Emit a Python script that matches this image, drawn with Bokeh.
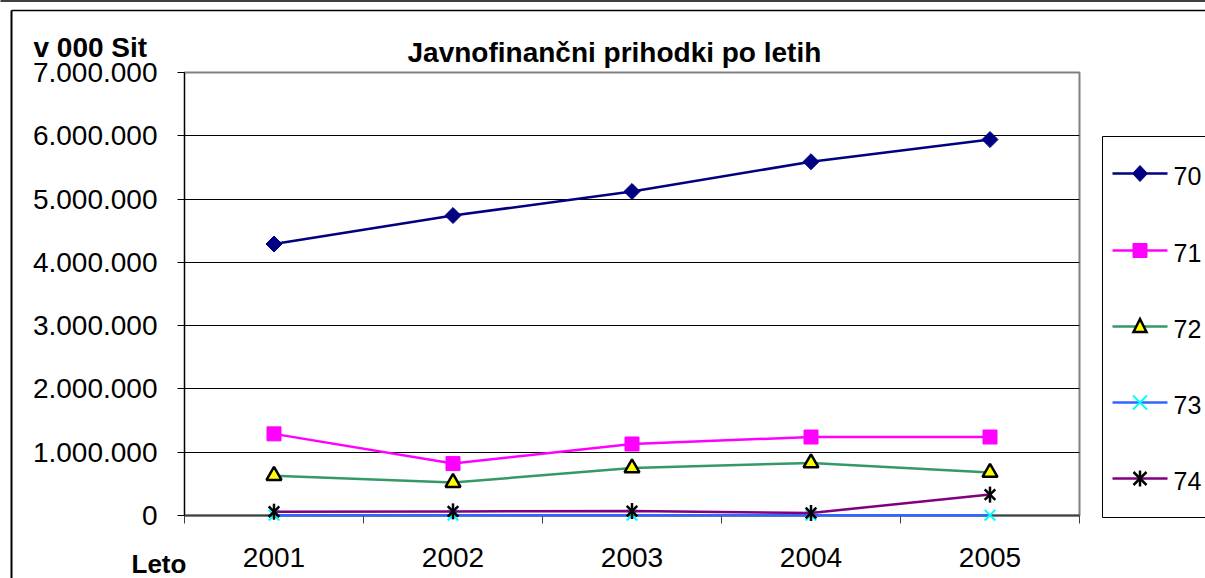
import math
from bokeh.plotting import figure
from bokeh.models import Range1d, FixedTicker, CustomJSTickFormatter
from bokeh.core.properties import value
from bokeh.embed import file_html
from bokeh.resources import INLINE

# ---- data (thousand SIT) ----
years = [2001, 2002, 2003, 2004, 2005]
s70 = [4290000, 4740000, 5120000, 5590000, 5940000]
s71 = [1290000, 820000, 1130000, 1240000, 1240000]
s72 = [630000, 520000, 750000, 830000, 680000]
s73 = [5000, 5000, 5000, 5000, 5000]
s74 = [60000, 65000, 70000, 40000, 330000]
series_names = ["70", "71", "72", "73", "74"]
y_ticks = [0, 1000000, 2000000, 3000000, 4000000, 5000000, 6000000, 7000000]
title_text = "Javnofinančni prihodki po letih"
y_title = "v 000 Sit"
x_title = "Leto"

FONT = "Liberation Sans"

# frame placement on the page (pixels)
FL, FR, FT, FB = 184, 1079, 72, 515
X_LO, X_HI = 2000.5, 2005.5
Y_LO, Y_HI = 0, 7000000
PX = (X_HI - X_LO) / (FR - FL)   # data units per pixel, x
PY = (Y_HI - Y_LO) / (FB - FT)   # data units per pixel, y


def xd(px):
    return X_LO + (px - FL) * PX


def yd(py):
    return Y_LO + (FB - py) * PY


p = figure(width=1205, height=578, output_backend="svg", toolbar_location=None,
           x_range=Range1d(X_LO, X_HI), y_range=Range1d(Y_LO, Y_HI),
           min_border_left=FL, min_border_right=1205 - FR, min_border_top=FT,
           min_border_bottom=578 - FB)
p.background_fill_color = "white"
p.border_fill_color = "white"
p.outline_line_color = "#808080"
p.outline_line_width = 2

p.title.text = title_text
p.title.align = "left"
p.title.offset = 223
p.title.standoff = 9
p.title.text_font = FONT
p.title.text_font_size = "28px"
p.title.text_font_style = "bold"
p.title.text_color = "black"

# axes
p.xaxis.ticker = FixedTicker(ticks=years, minor_ticks=[X_LO + i for i in range(6)])
p.xaxis.major_tick_out = 0
p.xaxis.major_tick_in = 0
p.xaxis.minor_tick_out = 8
p.xaxis.minor_tick_in = 0
p.xaxis.minor_tick_line_color = "#404040"
p.xaxis.axis_line_color = "#404040"
p.xaxis.axis_line_width = 2
p.xaxis.major_label_standoff = 24
p.xaxis.major_label_text_font = FONT
p.xaxis.major_label_text_font_size = "28px"
p.xaxis.major_label_text_color = "black"

p.yaxis.ticker = FixedTicker(ticks=y_ticks)
p.yaxis.formatter = CustomJSTickFormatter(code="""
return Math.round(tick).toString().replace(/\\B(?=(\\d{3})+(?!\\d))/g, '.');
""")
p.yaxis.major_tick_out = 7
p.yaxis.major_tick_in = 0
p.yaxis.minor_tick_line_color = None
p.yaxis.axis_line_color = "black"
p.yaxis.major_tick_line_color = "black"
p.yaxis.major_label_standoff = 20
p.yaxis.major_label_text_font = FONT
p.yaxis.major_label_text_font_size = "28px"
p.yaxis.major_label_text_color = "black"

p.xgrid.grid_line_color = None
p.ygrid.ticker = FixedTicker(ticks=y_ticks[1:-1])
p.ygrid.grid_line_color = "black"
p.ygrid.grid_line_width = 1

# series styles: (values, line colour, plot markers, legend marker parts in pixel offsets)
styles = [
    (s70, "#000080",
     [dict(marker="square", size=11.3, angle=math.pi / 4, fill_color="#000080",
           line_color="#000080")],
     [("patch", [(0, -8), (7.5, 0), (0, 8), (-7.5, 0)], "#000080", "#000080", 1)]),
    (s71, "#FF00FF",
     [dict(marker="square", size=14, fill_color="#FF00FF", line_color="#FF00FF")],
     [("patch", [(-7, -7), (7, -7), (7, 7), (-7, 7)], "#FF00FF", "#FF00FF", 1)]),
    (s72, "#339966",
     [dict(marker="triangle", size=15, fill_color="#FFFF00", line_color="black", line_width=2.5)],
     [("patch", [(0, -7.5), (6.5, 5.5), (-6.5, 5.5)], "#FFFF00", "black", 2.5)]),
    (s73, "#3366FF",
     [dict(marker="x", size=15, line_color="#00FFFF", line_width=2)],
     [("seg", [((-7, -7), (7, 7)), ((-7, 7), (7, -7))], None, "#00FFFF", 2)]),
    (s74, "#800080",
     [dict(marker="x", size=15, line_color="black", line_width=2.5),
      dict(marker="dash", size=16, angle=math.pi / 2, line_color="black", line_width=2.5)],
     [("seg", [((-6.5, -6.5), (6.5, 6.5)), ((-6.5, 6.5), (6.5, -6.5)), ((0, -8), (0, 8))],
       None, "black", 2.5)]),
]

# legend item centres (page pixels)
LEG_Y = [173, 250, 326, 402, 478]
LEG_X0, LEG_X1, LEG_TX = 1112, 1167, 1173

for (vals, lc, marks, leg_parts), name, cy in zip(styles, series_names, LEG_Y):
    # data series (overlay level so markers on the zero line are not cut by the frame)
    p.line(years, vals, line_color=lc, line_width=2.5, level="overlay")
    for mk in marks:
        p.scatter(years, vals, level="overlay", **mk)
    # legend entry (drawn at overlay level so it is not clipped to the plot frame)
    p.line([xd(LEG_X0), xd(LEG_X1)], [yd(cy), yd(cy)], line_color=lc, line_width=2.5,
           level="overlay")
    cx = (LEG_X0 + LEG_X1) / 2
    for kind, pts, fc, lcol, lw in leg_parts:
        if kind == "patch":
            p.patch([xd(cx + dx) for dx, dy in pts], [yd(cy + dy) for dx, dy in pts],
                    fill_color=fc, line_color=lcol, line_width=lw, line_join="miter",
                    level="overlay")
        else:
            p.segment(x0=[xd(cx + a[0]) for a, b in pts], y0=[yd(cy + a[1]) for a, b in pts],
                      x1=[xd(cx + b[0]) for a, b in pts], y1=[yd(cy + b[1]) for a, b in pts],
                      line_color=lcol, line_width=lw, level="overlay")
    p.text(x=[xd(LEG_TX)], y=[yd(cy + 2)], text=[name], text_align="left",
           text_baseline="middle", text_font=value(FONT), text_font_size="25px",
           text_color="black", level="overlay")

# chart borders and legend box, drawn unclipped
p.segment(x0=[xd(0), xd(11), xd(11)], y0=[yd(0.5), yd(10), yd(10)],
          x1=[xd(1400), xd(11), xd(1400)], y1=[yd(0.5), yd(700), yd(10)],
          line_color="black", line_width=[1.5, 2, 1.5], level="overlay")
p.segment(x0=[xd(1102), xd(1102), xd(1102)], y0=[yd(136), yd(136), yd(517)],
          x1=[xd(1400), xd(1102), xd(1400)], y1=[yd(136), yd(517), yd(517)],
          line_color="black", line_width=1, level="overlay")

# axis captions
p.text(x=[xd(33)], y=[yd(47)], text=[y_title], text_align="left", text_baseline="alphabetic",
       text_font=value(FONT), text_font_size="28px", text_font_style="bold", text_color="black",
       level="overlay")
p.text(x=[xd(131)], y=[yd(563)], text=[x_title], text_align="left", text_baseline="alphabetic",
       text_font=value(FONT), text_font_size="26px", text_font_style="bold", text_color="black",
       level="overlay")

open("out.html", "w").write(file_html(p, INLINE))
